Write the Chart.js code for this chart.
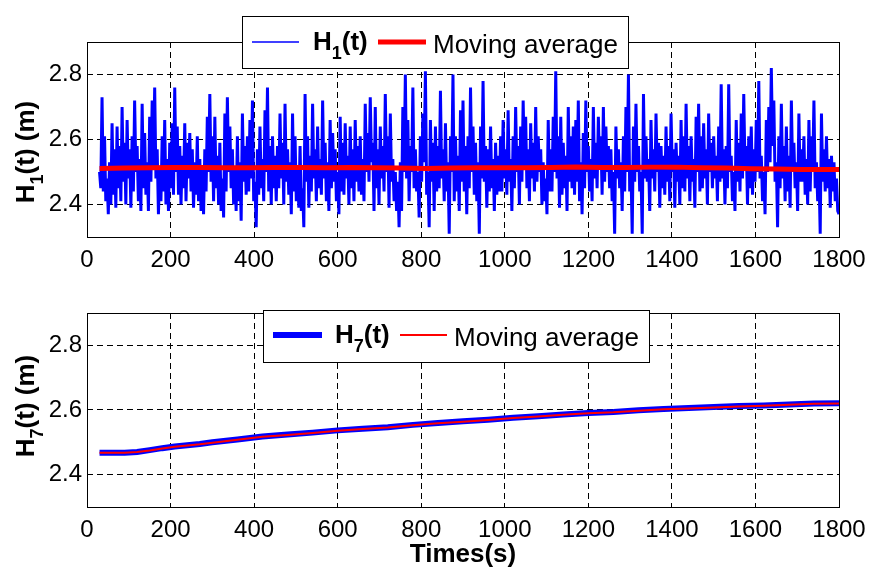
<!DOCTYPE html>
<html>
<head>
<meta charset="utf-8">
<script src="https://cdn.jsdelivr.net/npm/chart.js@4.4.0/dist/chart.umd.min.js"></script>
<style>
  html, body { margin: 0; padding: 0; background: #fff; }
  #wrap { position: relative; width: 869px; height: 570px; }
  .panel { position: absolute; left: 0; width: 869px; height: 285px; }
  #top { top: 0; }
  #bottom { top: 285px; }
</style>
</head>
<body>
<div id="wrap">
  <div class="panel" id="top"><canvas id="h1Chart" width="869" height="285"></canvas></div>
  <div class="panel" id="bottom"><canvas id="h7Chart" width="869" height="285"></canvas></div>
</div>
<script>
// ---- data ----
const xTicks = [0, 200, 400, 600, 800, 1000, 1200, 1400, 1600, 1800];
const yTicks = [2.4, 2.6, 2.8];

// H1(t): sampled every 3 s starting at t = 30 s (one row = 60 s)
const h1Start = 30;
const h1Step = 3;
const h1Values = [
  2.50, 2.45, 2.73, 2.44, 2.61, 2.41, 2.48, 2.37, 2.53, 2.40, 2.65, 2.43, 2.57, 2.39, 2.64, 2.45, 2.58, 2.41, 2.70, 2.47,
  2.59, 2.40, 2.66, 2.48, 2.57, 2.39, 2.61, 2.44, 2.72, 2.50, 2.58, 2.41, 2.54, 2.38, 2.71, 2.45, 2.62, 2.43, 2.53, 2.38,
  2.67, 2.47, 2.72, 2.51, 2.76, 2.48, 2.57, 2.37, 2.51, 2.41, 2.61, 2.44, 2.66, 2.40, 2.54, 2.38, 2.59, 2.45, 2.65, 2.43,
  2.76, 2.50, 2.64, 2.43, 2.58, 2.40, 2.55, 2.45, 2.65, 2.41, 2.59, 2.48, 2.62, 2.44, 2.57, 2.39, 2.53, 2.43, 2.61, 2.41,
  2.54, 2.38, 2.51, 2.37, 2.57, 2.44, 2.67, 2.50, 2.74, 2.47, 2.61, 2.41, 2.67, 2.45, 2.55, 2.40, 2.59, 2.38, 2.48, 2.36,
  2.68, 2.44, 2.73, 2.50, 2.64, 2.45, 2.57, 2.40, 2.51, 2.38, 2.61, 2.41, 2.53, 2.35, 2.68, 2.47, 2.58, 2.43, 2.61, 2.44,
  2.66, 2.48, 2.72, 2.41, 2.47, 2.33, 2.57, 2.43, 2.64, 2.45, 2.54, 2.41, 2.69, 2.50, 2.76, 2.44, 2.58, 2.40, 2.61, 2.45,
  2.55, 2.41, 2.58, 2.45, 2.68, 2.48, 2.59, 2.40, 2.71, 2.47, 2.57, 2.43, 2.53, 2.37, 2.68, 2.44, 2.61, 2.41, 2.51, 2.39,
  2.58, 2.38, 2.45, 2.33, 2.74, 2.47, 2.61, 2.39, 2.55, 2.44, 2.71, 2.48, 2.57, 2.41, 2.64, 2.45, 2.54, 2.43, 2.72, 2.48,
  2.59, 2.41, 2.53, 2.38, 2.66, 2.45, 2.62, 2.47, 2.57, 2.41, 2.50, 2.37, 2.67, 2.44, 2.59, 2.43, 2.65, 2.48, 2.55, 2.40,
  2.64, 2.45, 2.57, 2.41, 2.66, 2.47, 2.58, 2.44, 2.61, 2.43, 2.54, 2.41, 2.71, 2.50, 2.62, 2.47, 2.73, 2.53, 2.59, 2.38,
  2.70, 2.45, 2.57, 2.40, 2.64, 2.48, 2.58, 2.44, 2.74, 2.50, 2.61, 2.39, 2.68, 2.47, 2.54, 2.41, 2.50, 2.38, 2.47, 2.33,
  2.53, 2.38, 2.70, 2.50, 2.80, 2.48, 2.66, 2.41, 2.58, 2.50, 2.76, 2.45, 2.57, 2.44, 2.50, 2.36, 2.61, 2.47, 2.68, 2.53,
  2.81, 2.43, 2.50, 2.33, 2.66, 2.47, 2.59, 2.38, 2.64, 2.44, 2.58, 2.45, 2.75, 2.48, 2.57, 2.41, 2.65, 2.44, 2.53, 2.31,
  2.61, 2.50, 2.80, 2.41, 2.61, 2.44, 2.55, 2.38, 2.69, 2.47, 2.72, 2.44, 2.58, 2.37, 2.61, 2.45, 2.76, 2.50, 2.64, 2.43,
  2.59, 2.41, 2.53, 2.31, 2.64, 2.48, 2.78, 2.47, 2.58, 2.39, 2.57, 2.44, 2.64, 2.45, 2.54, 2.38, 2.59, 2.43, 2.55, 2.44,
  2.61, 2.44, 2.66, 2.48, 2.57, 2.43, 2.69, 2.47, 2.54, 2.38, 2.61, 2.45, 2.70, 2.50, 2.58, 2.40, 2.64, 2.47, 2.72, 2.51,
  2.67, 2.45, 2.57, 2.41, 2.65, 2.48, 2.59, 2.44, 2.70, 2.47, 2.61, 2.50, 2.57, 2.40, 2.53, 2.41, 2.48, 2.37, 2.66, 2.44,
  2.57, 2.44, 2.67, 2.50, 2.81, 2.48, 2.61, 2.39, 2.67, 2.43, 2.59, 2.45, 2.55, 2.38, 2.70, 2.47, 2.61, 2.45, 2.64, 2.43,
  2.66, 2.47, 2.72, 2.41, 2.53, 2.37, 2.62, 2.45, 2.72, 2.50, 2.58, 2.44, 2.54, 2.41, 2.70, 2.48, 2.59, 2.45, 2.67, 2.51,
  2.61, 2.43, 2.70, 2.47, 2.64, 2.50, 2.58, 2.45, 2.57, 2.41, 2.50, 2.31, 2.64, 2.48, 2.57, 2.45, 2.53, 2.38, 2.61, 2.44,
  2.70, 2.50, 2.80, 2.44, 2.51, 2.31, 2.64, 2.47, 2.71, 2.50, 2.58, 2.44, 2.50, 2.31, 2.74, 2.48, 2.61, 2.47, 2.54, 2.38,
  2.66, 2.48, 2.57, 2.44, 2.68, 2.50, 2.59, 2.39, 2.58, 2.45, 2.55, 2.43, 2.64, 2.47, 2.58, 2.41, 2.68, 2.50, 2.57, 2.39,
  2.59, 2.47, 2.55, 2.40, 2.66, 2.45, 2.61, 2.44, 2.71, 2.48, 2.58, 2.41, 2.61, 2.47, 2.54, 2.39, 2.67, 2.50, 2.71, 2.44,
  2.61, 2.45, 2.65, 2.48, 2.57, 2.40, 2.68, 2.50, 2.59, 2.45, 2.61, 2.48, 2.55, 2.41, 2.64, 2.47, 2.77, 2.48, 2.57, 2.40,
  2.58, 2.45, 2.77, 2.50, 2.55, 2.41, 2.50, 2.38, 2.66, 2.47, 2.59, 2.44, 2.68, 2.48, 2.74, 2.51, 2.58, 2.40, 2.61, 2.45,
  2.64, 2.43, 2.57, 2.47, 2.66, 2.50, 2.78, 2.48, 2.55, 2.41, 2.50, 2.37, 2.66, 2.50, 2.70, 2.53, 2.82, 2.58, 2.72, 2.47,
  2.53, 2.33, 2.61, 2.45, 2.71, 2.48, 2.58, 2.41, 2.64, 2.44, 2.55, 2.39, 2.72, 2.50, 2.59, 2.45, 2.53, 2.38, 2.68, 2.47,
  2.57, 2.47, 2.61, 2.43, 2.54, 2.40, 2.66, 2.44, 2.61, 2.50, 2.72, 2.45, 2.53, 2.41, 2.50, 2.31, 2.68, 2.47, 2.57, 2.44,
  2.61, 2.45, 2.54, 2.39, 2.55, 2.44, 2.53, 2.41, 2.48, 2.38, 2.37
];

// moving average of H1(t)
const h1AvgTimes = [30, 90, 150, 210, 270, 330, 390, 450, 510, 570, 630, 690, 750, 810, 870,
  930, 990, 1050, 1110, 1170, 1230, 1290, 1350, 1410, 1470, 1530, 1590, 1650, 1710, 1770, 1800];
const h1AvgValues = [2.511, 2.512, 2.513, 2.514, 2.514, 2.513, 2.513, 2.514, 2.514, 2.513, 2.514,
  2.513, 2.512, 2.511, 2.512, 2.513, 2.513, 2.513, 2.514, 2.515, 2.514, 2.514, 2.515, 2.515,
  2.513, 2.512, 2.510, 2.509, 2.508, 2.508, 2.508];

// H7(t) and its moving average
const h7Times = [30, 60, 90, 120, 150, 180, 210, 240, 270, 300, 360, 420, 480, 540, 600, 660, 720,
  780, 840, 900, 960, 1020, 1080, 1140, 1200, 1260, 1320, 1380, 1440, 1500, 1560, 1620, 1680, 1740, 1800];
const h7Values = [2.468, 2.468, 2.468, 2.470, 2.476, 2.482, 2.487, 2.491, 2.495, 2.500, 2.509,
  2.518, 2.524, 2.530, 2.537, 2.542, 2.547, 2.554, 2.560, 2.565, 2.570, 2.576, 2.581, 2.586,
  2.591, 2.594, 2.599, 2.603, 2.606, 2.609, 2.612, 2.614, 2.617, 2.620, 2.621];
const h7AvgValues = [2.468, 2.468, 2.468, 2.470, 2.475, 2.481, 2.486, 2.490, 2.494, 2.499, 2.508,
  2.517, 2.523, 2.529, 2.536, 2.541, 2.546, 2.553, 2.559, 2.564, 2.569, 2.575, 2.580, 2.585,
  2.590, 2.593, 2.598, 2.602, 2.605, 2.608, 2.611, 2.613, 2.616, 2.619, 2.620];

// ---- helpers ----
const FONT = '"Liberation Sans", Arial, Helvetica, sans-serif';

function toPoints(xs, ys) {
    return ys.map((v, i) => ({ x: xs[i], y: v }));
}

function drawRich(ctx, parts, x, y) {
    let cx = x;
    parts.forEach(p => {
        ctx.font = p.font;
        ctx.fillText(p.text, cx, y + (p.dy || 0));
        cx += ctx.measureText(p.text).width;
    });
    return cx - x;
}

function richWidth(ctx, parts) {
    let w = 0;
    parts.forEach(p => {
        ctx.font = p.font;
        w += ctx.measureText(p.text).width;
    });
    return w;
}

function hLabel(sub) {
    return [
        { text: 'H', font: 'bold 26px ' + FONT },
        { text: sub, font: 'bold 18px ' + FONT, dy: 9 },
        { text: '(t)', font: 'bold 26px ' + FONT }
    ];
}

// frame, axis titles and the legend (MATLAB-like)
const decorations = {
    id: 'decorations',
    afterDatasetsDraw(chart, args, opts) {
        const ctx = chart.ctx;
        const a = chart.chartArea;
        ctx.save();

        // axes box
        ctx.strokeStyle = '#000';
        ctx.lineWidth = 1;
        ctx.setLineDash([]);
        ctx.strokeRect(Math.round(a.left) + 0.5, Math.round(a.top) + 0.5,
            Math.round(a.right - a.left), Math.round(a.bottom - a.top));

        ctx.fillStyle = '#000';
        ctx.textBaseline = 'alphabetic';
        ctx.textAlign = 'left';

        // y title
        const yParts = hLabel(opts.sub).concat([{ text: ' (m)', font: 'bold 26px ' + FONT }]);
        ctx.save();
        ctx.translate(opts.yTitleX, opts.yTitleY);
        ctx.rotate(-Math.PI / 2);
        drawRich(ctx, yParts, -richWidth(ctx, yParts) / 2, 0);
        ctx.restore();

        // x title
        if (opts.xTitle) {
            ctx.font = 'bold 26px ' + FONT;
            ctx.textAlign = 'center';
            ctx.fillText(opts.xTitle, (a.left + a.right) / 2, opts.xTitleY);
            ctx.textAlign = 'left';
        }

        // legend
        const L = opts.legend;
        ctx.fillStyle = '#fff';
        ctx.fillRect(L.box[0], L.box[1], L.box[2] - L.box[0], L.box[3] - L.box[1]);
        ctx.strokeStyle = '#000';
        ctx.lineWidth = 1;
        ctx.strokeRect(L.box[0] + 0.5, L.box[1] + 0.5, L.box[2] - L.box[0], L.box[3] - L.box[1]);

        ctx.lineCap = 'butt';
        ctx.strokeStyle = '#0000ff';
        ctx.lineWidth = L.blueWidth;
        ctx.beginPath();
        ctx.moveTo(L.blue[0], L.lineY);
        ctx.lineTo(L.blue[1], L.lineY);
        ctx.stroke();

        ctx.strokeStyle = '#ff0000';
        ctx.lineWidth = L.redWidth;
        ctx.beginPath();
        ctx.moveTo(L.red[0], L.lineY);
        ctx.lineTo(L.red[1], L.lineY);
        ctx.stroke();

        ctx.fillStyle = '#000';
        drawRich(ctx, hLabel(opts.sub), L.labelX, L.labelBase);
        ctx.font = '26px ' + FONT;
        ctx.fillText('Moving average', L.avgX, L.avgBase);

        ctx.restore();
    }
};

function makeScales(xHeight) {
    return {
        x: {
            type: 'linear',
            min: 0,
            max: 1800,
            afterBuildTicks: s => { s.ticks = xTicks.map(v => ({ value: v })); },
            afterFit: s => { s.height = xHeight; s.paddingLeft = 0; s.paddingRight = 0; },
            grid: {
                drawTicks: false,
                lineWidth: 1,
                color: c => (c.tick && (c.tick.value === 0 || c.tick.value === 1800)) ? 'rgba(0,0,0,0)' : '#000'
            },
            border: { display: false, dash: [6, 4] },
            ticks: {
                color: '#000',
                padding: 9,
                maxRotation: 0,
                font: { family: FONT, size: 24 },
                callback: v => String(v)
            }
        },
        y: {
            type: 'linear',
            min: 2.3,
            max: 2.9,
            afterBuildTicks: s => { s.ticks = yTicks.map(v => ({ value: v })); },
            afterFit: s => { s.width = 87; s.paddingTop = 0; s.paddingBottom = 0; },
            grid: { drawTicks: false, lineWidth: 1, color: '#000' },
            border: { display: false, dash: [6, 4] },
            ticks: {
                color: '#000',
                padding: 5,
                font: { family: FONT, size: 24 },
                callback: v => v.toFixed(1)
            }
        }
    };
}

// ---- top panel: H1(t) ----
new Chart(document.getElementById('h1Chart').getContext('2d'), {
    type: 'line',
    data: {
        datasets: [{
            label: 'H1(t)',
            data: toPoints(h1Values.map((v, i) => h1Start + i * h1Step), h1Values),
            borderColor: '#0000ff',
            borderWidth: 3,
            pointRadius: 0,
            tension: 0,
            order: 2
        }, {
            label: 'Moving average',
            data: toPoints(h1AvgTimes, h1AvgValues),
            borderColor: '#ff0000',
            borderWidth: 5,
            pointRadius: 0,
            tension: 0,
            order: 1
        }]
    },
    options: {
        responsive: false,
        animation: false,
        layout: { padding: { top: 42, right: 30, left: 0, bottom: 0 } },
        plugins: {
            legend: { display: false },
            tooltip: { enabled: false },
            decorations: {
                sub: '1',
                yTitleX: 34,
                yTitleY: 152,
                legend: {
                    box: [242, 16, 628, 68],
                    lineY: 42,
                    blue: [252, 299], blueWidth: 1.5,
                    red: [378, 426], redWidth: 5,
                    labelX: 313, labelBase: 50,
                    avgX: 433, avgBase: 53
                }
            }
        },
        scales: makeScales(48)
    },
    plugins: [decorations]
});

// ---- bottom panel: H7(t) ----
new Chart(document.getElementById('h7Chart').getContext('2d'), {
    type: 'line',
    data: {
        datasets: [{
            label: 'H7(t)',
            data: toPoints(h7Times, h7Values),
            borderColor: '#0000ff',
            borderWidth: 6,
            pointRadius: 0,
            tension: 0,
            order: 2
        }, {
            label: 'Moving average',
            data: toPoints(h7Times, h7AvgValues),
            borderColor: '#ff0000',
            borderWidth: 2,
            pointRadius: 0,
            tension: 0,
            order: 1
        }]
    },
    options: {
        responsive: false,
        animation: false,
        layout: { padding: { top: 28, right: 30, left: 0, bottom: 0 } },
        plugins: {
            legend: { display: false },
            tooltip: { enabled: false },
            decorations: {
                sub: '7',
                yTitleX: 34,
                yTitleY: 121,
                xTitle: 'Times(s)',
                xTitleY: 277,
                legend: {
                    box: [263, 25, 649, 77],
                    lineY: 50,
                    blue: [273, 322], blueWidth: 6,
                    red: [400, 447], redWidth: 2,
                    labelX: 335, labelBase: 58,
                    avgX: 454, avgBase: 61
                }
            }
        },
        scales: makeScales(63)
    },
    plugins: [decorations]
});
</script>
</body>
</html>
